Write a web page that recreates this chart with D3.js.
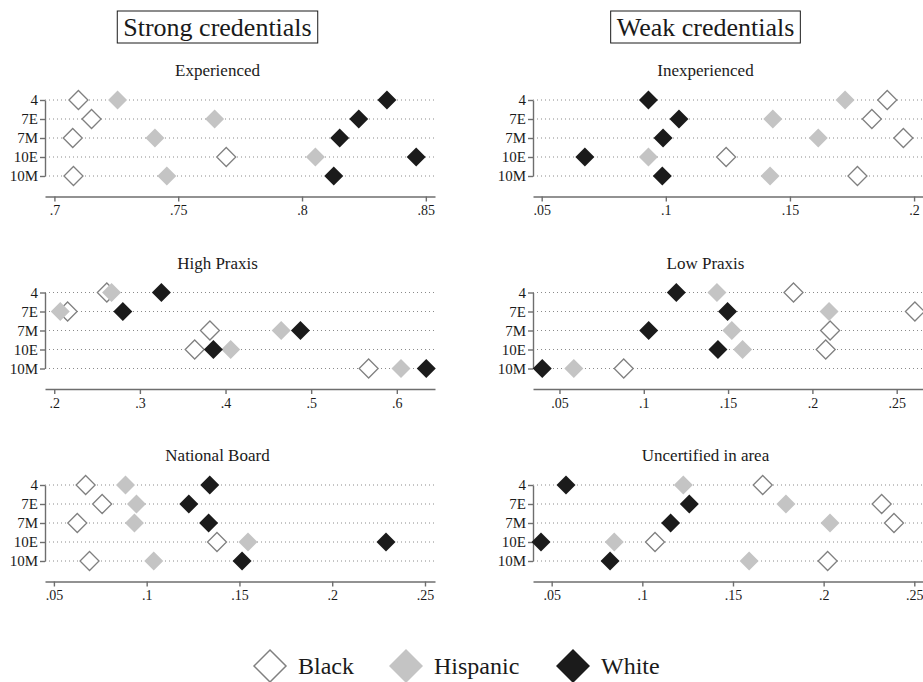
<!DOCTYPE html>
<html>
<head>
<meta charset="utf-8">
<script src="https://cdn.jsdelivr.net/npm/d3@7"></script>
<style>
  body { margin: 0; background: #fff; }
  svg text { font-family: "Times New Roman", Times, "Liberation Serif", "DejaVu Serif", "Noto Serif", serif; }
</style>
</head>
<body>
<div id="chart"></div>
<script>
// categories
const rows = ["4", "7E", "7M", "10E", "10M"];
const groups = ["Black", "Hispanic", "White"];
const columnTitles = ["Strong credentials", "Weak credentials"];
const panelTitles = ["Experienced", "Inexperienced", "High Praxis", "Low Praxis", "National Board", "Uncertified in area"];

// values, one entry per row (4, 7E, 7M, 10E, 10M)
const experiencedBlack    = [.7097, .7150, .7074, .7694, .7077];
const experiencedHispanic = [.7255, .7647, .7406, .8054, .7454];
const experiencedWhite    = [.8343, .8229, .8152, .8461, .8128];

const inexperiencedBlack    = [.1892, .1830, .1957, .1243, .1772];
const inexperiencedHispanic = [.1722, .1431, .1614, .0930, .1420];
const inexperiencedWhite    = [.0930, .1053, .0989, .0674, .0986];

const highPraxisBlack    = [.2614, .2156, .3818, .3640, .5671];
const highPraxisHispanic = [.2669, .2070, .4650, .4060, .6049];
const highPraxisWhite    = [.3251, .2801, .4875, .3858, .6344];

const lowPraxisBlack    = [.1888, .2608, .2105, .2079, .0881];
const lowPraxisHispanic = [.1434, .2099, .1522, .1586, .0585];
const lowPraxisWhite    = [.1193, .1497, .1029, .1440, .0398];

const nationalBoardBlack    = [.0671, .0760, .0626, .1379, .0692];
const nationalBoardHispanic = [.0886, .0945, .0934, .1546, .1038];
const nationalBoardWhite    = [.1340, .1227, .1334, .2290, .1514];

const uncertifiedBlack    = [.1664, .2320, .2388, .1070, .2022];
const uncertifiedHispanic = [.1226, .1792, .2035, .0845, .1589];
const uncertifiedWhite    = [.0579, .1259, .1156, .0441, .0822];

// x ranges and tick labels
const experiencedDomain = [.6962, .8537];
const inexperiencedDomain = [.0465, .2036];
const highPraxisDomain = [.1892, .6446];
const lowPraxisDomain = [.0343, .2656];
const nationalBoardDomain = [.0452, .2554];
const uncertifiedDomain = [.0397, .2548];

const experiencedTicks = [.7, .75, .8, .85];
const inexperiencedTicks = [.05, .1, .15, .2];
const highPraxisTicks = [.2, .3, .4, .5, .6];
const lowPraxisTicks = [.05, .1, .15, .2, .25];
const nationalBoardTicks = [.05, .1, .15, .2, .25];
const uncertifiedTicks = [.05, .1, .15, .2, .25];

const panels = [
    { title: panelTitles[0], domain: experiencedDomain, ticks: experiencedTicks, values: [experiencedBlack, experiencedHispanic, experiencedWhite] },
    { title: panelTitles[1], domain: inexperiencedDomain, ticks: inexperiencedTicks, values: [inexperiencedBlack, inexperiencedHispanic, inexperiencedWhite] },
    { title: panelTitles[2], domain: highPraxisDomain, ticks: highPraxisTicks, values: [highPraxisBlack, highPraxisHispanic, highPraxisWhite] },
    { title: panelTitles[3], domain: lowPraxisDomain, ticks: lowPraxisTicks, values: [lowPraxisBlack, lowPraxisHispanic, lowPraxisWhite] },
    { title: panelTitles[4], domain: nationalBoardDomain, ticks: nationalBoardTicks, values: [nationalBoardBlack, nationalBoardHispanic, nationalBoardWhite] },
    { title: panelTitles[5], domain: uncertifiedDomain, ticks: uncertifiedTicks, values: [uncertifiedBlack, uncertifiedHispanic, uncertifiedWhite] }
];

const fills = { Black: '#ffffff', Hispanic: '#c4c4c4', White: '#1b1b1b' };
const strokes = { Black: '#808080', Hispanic: 'none', White: 'none' };
const axisColor = '#6e6e6e';
const serif = '"Times New Roman", Times, "Liberation Serif", "DejaVu Serif", "Noto Serif", serif';

const width = 923, height = 682;
const svg = d3.select('#chart').append('svg')
    .attr('width', width)
    .attr('height', height);

const colLeft = [45, 533];
const plotWidth = 390;
const rowTop = [100, 292.5, 485];

function diamond(r) {
    return `M0,${-r}L${r},0L0,${r}L${-r},0Z`;
}

// column headers with boxes
columnTitles.forEach((t, i) => {
    const cx = (colLeft[i] - 45 + colLeft[i] + plotWidth) / 2;
    const text = svg.append('text')
        .attr('x', cx)
        .attr('y', 36)
        .attr('text-anchor', 'middle')
        .attr('font-family', serif)
        .attr('font-size', 26)
        .attr('fill', '#1a1a1a')
        .text(t);
    const bb = text.node().getBBox();
    svg.insert('rect', 'text')
        .attr('x', bb.x - 6)
        .attr('y', 11)
        .attr('width', bb.width + 12)
        .attr('height', 32)
        .attr('fill', 'none')
        .attr('stroke', '#1a1a1a')
        .attr('stroke-width', 1);
});

panels.forEach((p, i) => {
    const col = i % 2;
    const row = Math.floor(i / 2);
    const left = colLeft[col];
    const right = left + plotWidth;
    const top = rowTop[row];
    const axisY = top + 96.5;

    const x = d3.scaleLinear().domain(p.domain).range([left, right]);
    const y = d3.scalePoint().domain(rows).range([top, top + 76]);

    const g = svg.append('g');

    g.append('text')
        .attr('x', (left - 45 + right) / 2)
        .attr('y', top - 24)
        .attr('text-anchor', 'middle')
        .attr('font-family', serif)
        .attr('font-size', 17)
        .attr('fill', '#1a1a1a')
        .text(p.title);

    // dotted guide lines
    g.selectAll('.grid')
        .data(rows)
        .enter().append('line')
        .attr('x1', left)
        .attr('x2', right)
        .attr('y1', d => y(d))
        .attr('y2', d => y(d))
        .attr('stroke', '#8a8a8a')
        .attr('stroke-width', 1)
        .attr('stroke-dasharray', '1,3');

    const yAxis = g.append('g')
        .attr('transform', `translate(${left},0)`)
        .call(d3.axisLeft(y).tickSize(5).tickSizeOuter(0).tickPadding(2));

    const xAxis = g.append('g')
        .attr('transform', `translate(0,${axisY})`)
        .call(d3.axisBottom(x).tickValues(p.ticks).tickSize(5).tickSizeOuter(0).tickPadding(4)
            .tickFormat(d => String(d).replace(/^0/, '')));

    [yAxis, xAxis].forEach(a => {
        a.attr('font-family', serif);
        a.selectAll('path, line').attr('stroke', axisColor).attr('stroke-width', 1.4);
        a.selectAll('text').attr('fill', '#1a1a1a');
    });
    yAxis.selectAll('text').attr('font-size', 15);
    xAxis.selectAll('text').attr('font-size', 14);

    groups.forEach((grp, gi) => {
        g.selectAll('.m' + gi)
            .data(p.values[gi])
            .enter().append('path')
            .attr('d', diamond(9.5))
            .attr('transform', (d, k) => `translate(${x(d)},${y(rows[k])})`)
            .attr('fill', fills[grp])
            .attr('stroke', strokes[grp])
            .attr('stroke-width', 1.3);
    });
});

// legend
const legendX = [270, 406, 573];
groups.forEach((grp, i) => {
    svg.append('path')
        .attr('d', diamond(grp === 'Black' ? 16 : 17))
        .attr('transform', `translate(${legendX[i]},666)`)
        .attr('fill', fills[grp])
        .attr('stroke', strokes[grp])
        .attr('stroke-width', 1.5);
    svg.append('text')
        .attr('x', legendX[i] + 28)
        .attr('y', 674)
        .attr('font-family', serif)
        .attr('font-size', 24)
        .attr('fill', '#1a1a1a')
        .text(grp);
});
</script>
</body>
</html>
